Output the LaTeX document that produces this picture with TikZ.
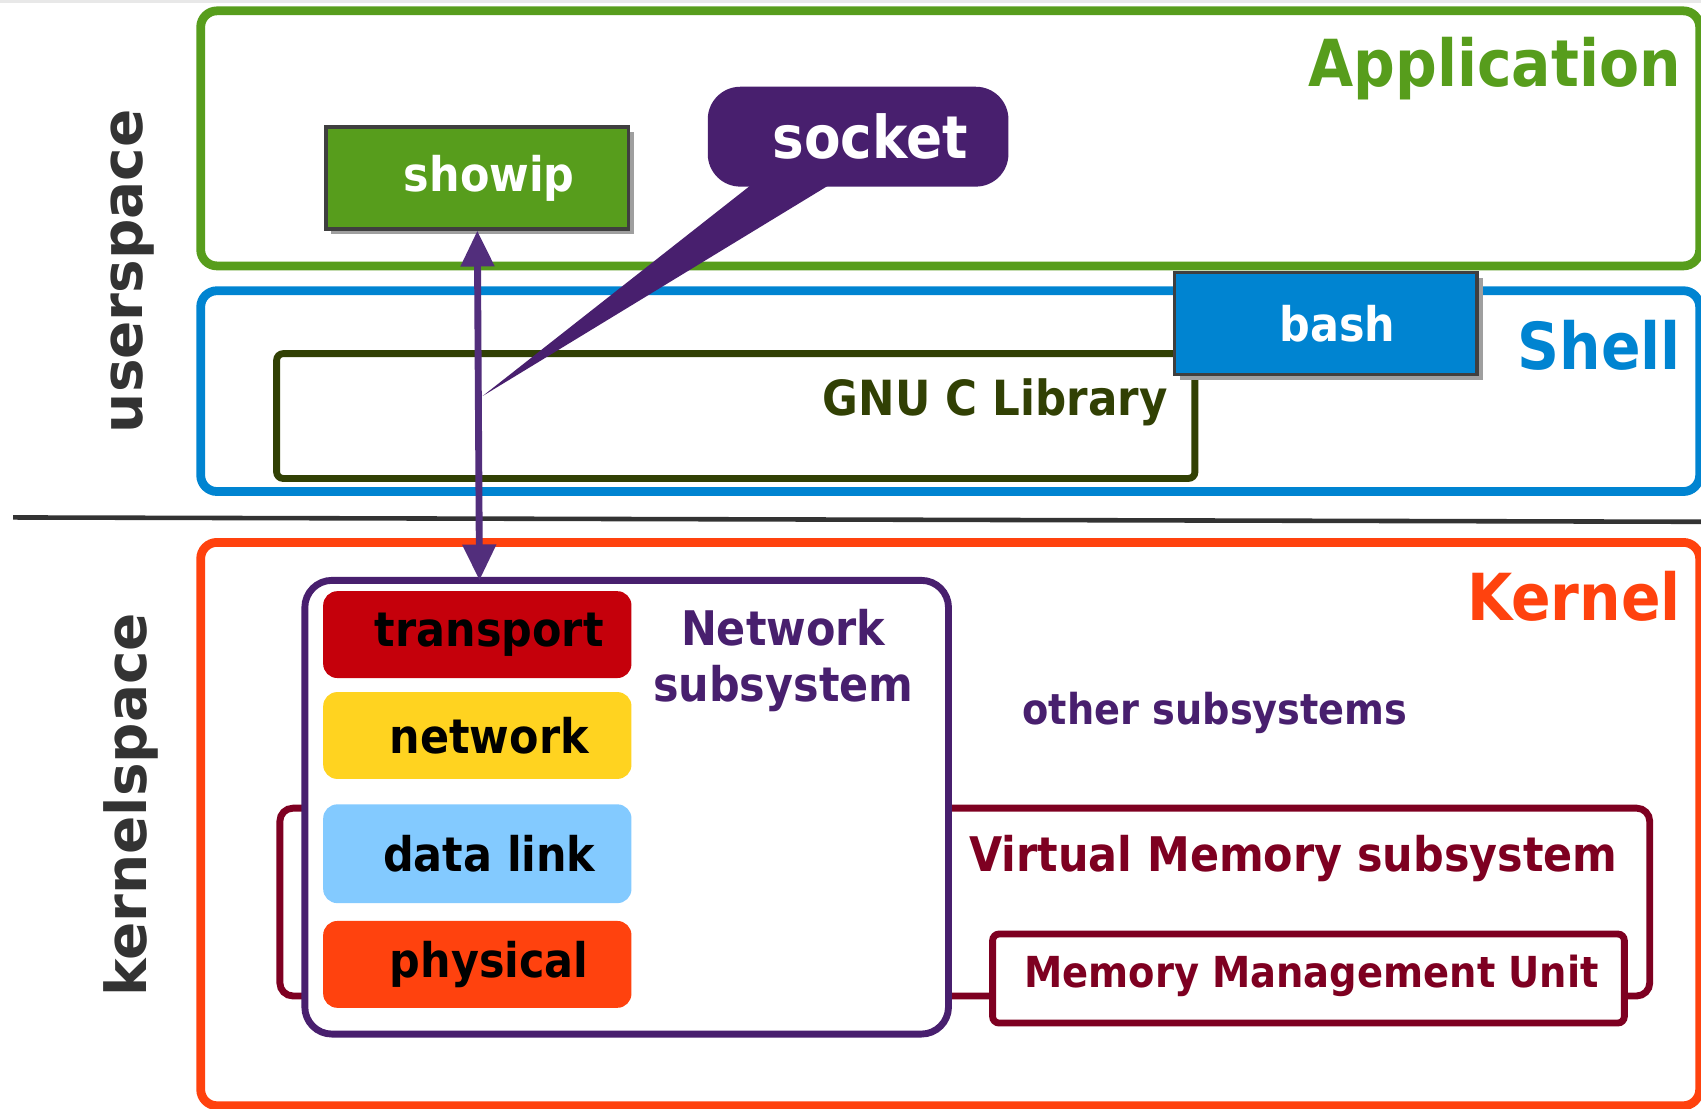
\documentclass[tikz,border=0pt]{standalone}
\usepackage{fontspec}
\setmainfont{DejaVu Sans Condensed}
\newfontfamily\widefont{DejaVu Sans}
\usetikzlibrary{arrows.meta, shadows}

\definecolor{appgreen}{HTML}{579D1C}
\definecolor{shellblue}{HTML}{0084D1}
\definecolor{kernorange}{HTML}{FF420E}
\definecolor{sockpurple}{HTML}{481F6E}
\definecolor{arrowpurple}{HTML}{522E7C}
\definecolor{libolive}{HTML}{314004}
\definecolor{vmred}{HTML}{7E0021}
\definecolor{transred}{HTML}{C5000B}
\definecolor{netyellow}{HTML}{FFD320}
\definecolor{linkblue}{HTML}{83CAFF}
\definecolor{sidegray}{HTML}{333333}
\definecolor{progborder}{HTML}{3F3F3F}

\newcommand{\LAYERX}{440}
\newcommand{\FS}[1]{\fontsize{#1}{1.2\dimexpr#1pt\relax}\selectfont}
\newcommand{\layerbox}[5]{\node[layer, fill=#2, minimum height=#3] (#1) at (\LAYERX,#4) {#5};}

\tikzset{
	region/.style={draw=#1, fill=white, line width=2.3pt, rounded corners=0.15cm, anchor=north west, inner sep=0pt, outer sep=0pt},
	inner/.style={line width=1.8pt},
	prog/.style={fill=#1, draw=progborder, line width=0.9pt, minimum width=2.79cm, minimum height=0.94cm,
		text=white, font=\bfseries\FS{12.5}, execute at begin node=\hspace{2.2mm},
		drop shadow={shadow xshift=0.05cm, shadow yshift=-0.05cm, fill=gray!75, opacity=1}},
	title/.style={anchor=base east, inner sep=0pt, font=\bfseries\FS{17}},
	layer/.style={rounded corners=0.13cm, minimum width=2.84cm, inner sep=0pt, font=\bfseries\FS{12.5}, text=black,
		execute at begin node=\hspace{2.2mm}},
	side/.style={rotate=90, text=sidegray, font=\widefont\bfseries\FS{14.8}},
	dbl/.style={arrowpurple, line width=1.8pt, >={Triangle[length=9.4pt,width=8.5pt]}, <->}
}

\begin{document}
\begin{tikzpicture}[x=0.01cm, y=-0.01cm]
	\useasboundingbox (0,0) rectangle (1568,1022);
	\clip (0,0) rectangle (1568,1022);
	\fill[gray!18] (0,0) rectangle (1568,3);

	% userspace
	\node[region=appgreen, minimum width=13.81cm, minimum height=2.35cm] (app) at (185,10) {};
	\node[title, text=appgreen] (apptitle) at (1550,80) {Application};
	\node[region=shellblue, minimum width=13.81cm, minimum height=1.85cm] (shell) at (185,268) {};
	\node[title, text=shellblue] (shelltitle) at (1550,341) {Shell};
	\node[region=libolive, inner, rounded corners=0.06cm, minimum width=8.46cm, minimum height=1.15cm] (glibc) at (255,326) {};
	\node[anchor=base east, inner sep=0pt, text=libolive, font=\bfseries\FS{12.7}] (glibctitle) at (1077,383) {GNU C Library};
	\node[prog=shellblue] (bash) at (1222,298) {bash};
	\node[prog=appgreen] (showip) at (440,164) {showip};

	\node[fill=sockpurple, rounded corners=0.3cm, minimum width=2.77cm, minimum height=0.92cm, text=white, font=\bfseries\FS{15.5}] (socket) at (791,126) {\hspace{2.2mm}socket};
	\coordinate (libtip) at (445,365);
	\fill[sockpurple] ([xshift=-0.95cm, yshift=0.05cm]socket.south) -- (libtip) -- ([xshift=-0.22cm, yshift=0.05cm]socket.south) -- cycle;

	% user / kernel border
	\coordinate (sepL) at (12,477);
	\coordinate (sepR) at (1568,481);
	\draw[sidegray, line width=1.2pt] (sepL) -- (sepR);

	% kernelspace
	\node[region=kernorange, minimum width=13.81cm, minimum height=5.19cm] (kernel) at (185,500) {};
	\node[title, text=kernorange] (kerneltitle) at (1550,572) {Kernel};
	\node[region=vmred, inner, rounded corners=0.12cm, minimum width=12.62cm, minimum height=1.73cm] (vmsub) at (258,745) {};
	\node[anchor=base west, inner sep=0pt, text=vmred, font=\bfseries\FS{12.5}] (vmtitle) at (893,803) {Virtual Memory subsystem};
	\node[region=sockpurple, inner, rounded corners=0.25cm, minimum width=5.93cm, minimum height=4.18cm] (netsub) at (281,535) {};
	\node[align=center, inner sep=0pt, text=sockpurple, font=\bfseries\fontsize{12.5}{14.5}\selectfont] (nettitle) at (722,609) {Network\\subsystem};

	\layerbox{transport}{transred}{0.8cm}{585}{transport}
	\layerbox{network}{netyellow}{0.8cm}{678}{network}
	\layerbox{datalink}{linkblue}{0.91cm}{787}{data link}
	\layerbox{physical}{kernorange}{0.8cm}{889}{physical}

	\node[anchor=base west, inner sep=0pt, text=sockpurple, font=\bfseries\FS{11.15}] (others) at (942,668) {other subsystems};
	\node[region=vmred, inner, rounded corners=0.06cm, minimum width=5.82cm, minimum height=0.82cm] (mmu) at (915,861) {};
	\node[text=vmred, font=\bfseries\FS{11.2}] (mmutitle) at (1209,900) {Memory Management Unit};

	\node[side] (userspace) at (122,250) {userspace};
	\node[side] (kernelspace) at (121,742) {kernelspace};

	\coordinate (netin) at (442,535);
	\draw[dbl] (showip.south) -- (netin);
\end{tikzpicture}
\end{document}
